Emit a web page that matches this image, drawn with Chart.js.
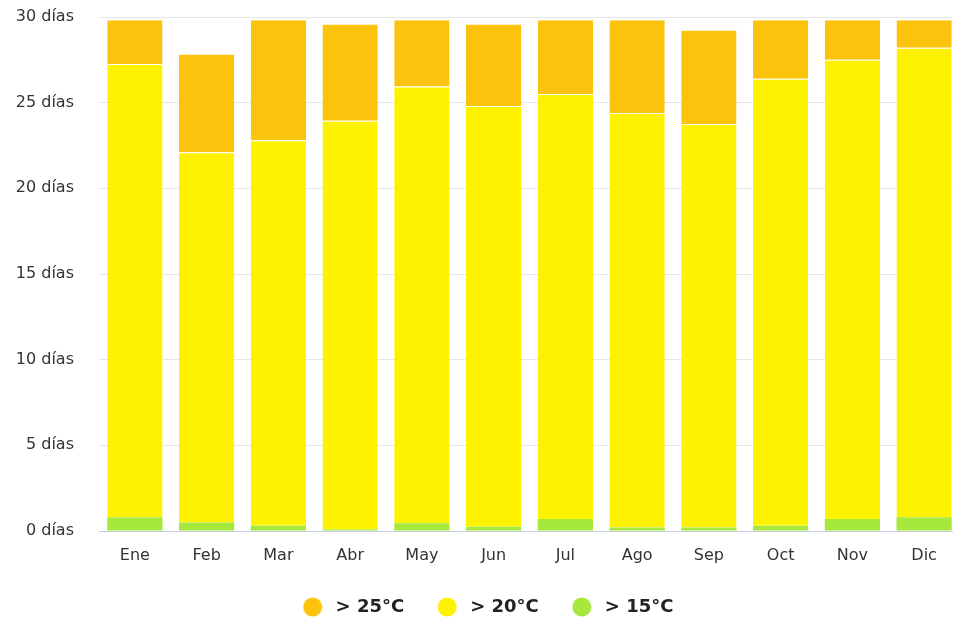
<!DOCTYPE html>
<html lang="es">
<head>
<meta charset="utf-8">
<title>Días de calor por mes</title>
<script src="https://cdn.jsdelivr.net/npm/chart.js@4.4.1/dist/chart.umd.min.js"></script>
<style>
  html, body { margin: 0; padding: 0; background: #fff; overflow: hidden; }
  #wrap { width: 980px; height: 623px; position: relative; }
</style>
</head>
<body>
<div id="wrap"><canvas id="myChart"></canvas></div>
<script>
// meses y días medios por umbral de temperatura
var meses = ['Ene', 'Feb', 'Mar', 'Abr', 'May', 'Jun', 'Jul', 'Ago', 'Sep', 'Oct', 'Nov', 'Dic'];
var dias15 = [0.8, 0.5, 0.3, 0.1, 0.45, 0.25, 0.7, 0.2, 0.2, 0.3, 0.7, 0.8];
var dias20 = [26.45, 21.6, 22.5, 23.85, 25.5, 24.55, 24.8, 24.2, 23.55, 26.1, 26.8, 27.4];
var dias25 = [2.6, 5.75, 7.05, 5.65, 3.9, 4.8, 4.35, 5.45, 5.5, 3.45, 2.35, 1.65];
var ticksY = [0, 5, 10, 15, 20, 25, 30];

var colores = { c15: '#a6e83b', c20: '#fff200', c25: '#fcc30d' };

Chart.defaults.font.family = "'DejaVu Sans', sans-serif";
Chart.defaults.color = '#333';

// circulito de la leyenda
function punto(color) {
  var c = document.createElement('canvas');
  c.width = 20;
  c.height = 20;
  var g = c.getContext('2d');
  g.fillStyle = color;
  g.beginPath();
  g.arc(10, 10, 9.5, 0, Math.PI * 2);
  g.fill();
  return c;
}

// la leyenda queda pegada al pie sin ocupar todo su relleno
var altoLeyenda = {
  id: 'altoLeyenda',
  afterInit: function(chart) {
    var fit = chart.legend.fit;
    chart.legend.fit = function() {
      fit.call(this);
      this.height = 54;
    };
  },
  afterLayout: function(chart) {
    chart.legend.left += 6;
    chart.legend.right += 6;
  }
};

var ctx = document.getElementById('myChart').getContext('2d');
var data = {
  labels: meses,
  datasets: [
    {
      label: '> 15°C',
      data: dias15,
      backgroundColor: colores.c15,
      borderWidth: 0,
      pointStyle: punto(colores.c15)
    },
    {
      label: '> 20°C',
      data: dias20,
      backgroundColor: colores.c20,
      borderColor: '#ffffff',
      borderWidth: { top: 1 },
      borderSkipped: false,
      pointStyle: punto(colores.c20)
    },
    {
      label: '> 25°C',
      data: dias25,
      backgroundColor: colores.c25,
      borderColor: '#ffffff',
      borderWidth: { top: 1 },
      borderSkipped: false,
      pointStyle: punto(colores.c25)
    }
  ]
};

var myChart = new Chart(ctx, {
  type: 'bar',
  data: data,
  plugins: [altoLeyenda],
  options: {
    responsive: true,
    maintainAspectRatio: false,
    animation: false,
    layout: { padding: { top: 17, left: 0, right: 20, bottom: 0 } },
    datasets: { bar: { barPercentage: 0.77, categoryPercentage: 1 } },
    plugins: {
      tooltip: { enabled: false },
      legend: {
        display: true,
        position: 'bottom',
        reverse: true,
        labels: {
          usePointStyle: true,
          pointStyleWidth: 28,
          boxHeight: 13,
          padding: 29,
          color: '#222',
          font: { size: 18, weight: 'bold' }
        }
      }
    },
    scales: {
      x: {
        stacked: true,
        grid: { display: false, drawTicks: false },
        border: { display: true, color: '#c5cbe3', width: 1 },
        ticks: { padding: 15, font: { size: 16 }, color: '#333' },
        afterFit: function(s) { s.height = 38; }
      },
      y: {
        stacked: true,
        min: 0,
        max: 30,
        afterBuildTicks: function(s) { s.ticks = ticksY.map(function(v) { return { value: v }; }); },
        afterFit: function(s) {
          s.width = 99;
          s.paddingTop = 0;
          s.paddingBottom = 0;
        },
        grid: { color: '#e6e6e6', drawTicks: false },
        border: { display: false },
        ticks: {
          padding: 25,
          font: { size: 16 },
          color: '#333',
          callback: function(v) { return v + ' días'; }
        }
      }
    }
  }
});
</script>
</body>
</html>
